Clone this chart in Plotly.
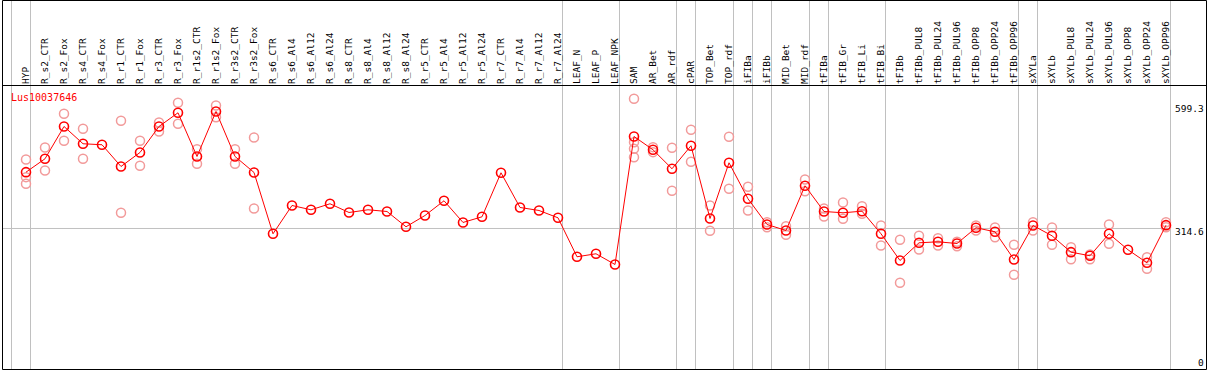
import plotly.graph_objects as go

categories = ["HYP", "R_s2_CTR", "R_s2_Fox", "R_s4_CTR", "R_s4_Fox", "R_r1_CTR", "R_r1_Fox",
              "R_r3_CTR", "R_r3_Fox", "R_r1s2_CTR", "R_r1s2_Fox", "R_r3s2_CTR", "R_r3s2_Fox",
              "R_s6_CTR", "R_s6_Al4", "R_s6_Al12", "R_s6_Al24", "R_s8_CTR", "R_s8_Al4", "R_s8_Al12",
              "R_s8_Al24", "R_r5_CTR", "R_r5_Al4", "R_r5_Al12", "R_r5_Al24", "R_r7_CTR", "R_r7_Al4",
              "R_r7_Al12", "R_r7_Al24", "LEAF_N", "LEAF_P", "LEAF_NPK", "SAM", "AR_Bet", "AR_rdf",
              "cPAR", "TOP_Bet", "TOP_rdf", "iFIBa", "iFIBb", "MID_Bet", "MID_rdf", "tFIBa",
              "tFIB_Gr", "tFIB_Li", "tFIB_Bi", "tFIBb", "tFIBb_PUL8", "tFIBb_PUL24", "tFIBb_PUL96",
              "tFIBb_OPP8", "tFIBb_OPP24", "tFIBb_OPP96", "sXYLa", "sXYLb", "sXYLb_PUL8",
              "sXYLb_PUL24", "sXYLb_PUL96", "sXYLb_OPP8", "sXYLb_OPP24", "sXYLb_OPP96"]

mean_values = [443.9, 474.6, 548.8, 509.1, 506.8, 456.9, 489.1, 548.8, 580.2, 479.9, 583.2, 479.9,
               443.2, 302.4, 367.4, 357.5, 371.3, 351.3, 357.5, 353.6, 318.5, 344.4, 378.2, 328.4,
               341.4, 442.5, 362.8, 355.9, 339.1, 249.6, 256.5, 231.9, 525.8, 495.3, 451.7, 504.5,
               337.5, 465.4, 382.8, 323.8, 310.0, 412.6, 353.6, 350.6, 354.3, 302.4, 241.1, 281.7,
               284.0, 280.1, 316.2, 307.0, 243.4, 321.5, 297.8, 260.2, 251.9, 302.4, 265.7, 235.8,
               322.2]

replicate_values = [
    [473.0, 432.4, 417.2], [500.6, 447.8], [578.0, 516.0], [543.5, 474.6], [],
    [561.9, 350.6], [516.0, 458.6], [558.0, 537.3], [603.2, 555.0], [496.7, 463.1],
    [597.0, 570.1], [496.7, 463.1], [523.5, 360.5], [], [], [], [], [], [], [], [], [], [],
    [], [], [], [], [], [], [], [], [],
    [612.4, 512.7, 497.6, 478.3], [501.3, 489.8], [499.9, 401.1], [541.2, 467.7],
    [367.4, 309.3], [525.1, 405.7], [410.3, 355.9], [329.0, 317.6], [319.9, 300.1],
    [427.1, 400.2], [360.5, 342.1], [374.3, 336.9], [365.8, 348.3], [321.5, 275.5],
    [288.6, 189.9], [297.8, 266.4], [292.3, 275.5], [284.0, 273.9], [321.5, 310.0],
    [316.9, 294.6], [277.1, 208.3], [329.0, 310.0], [316.9, 277.1], [271.6, 244.1],
    [254.9, 244.1], [323.8, 279.4], [], [248.7, 222.0], [329.0, 317.6]]

# group boundaries: separators drawn after these category indices
group_ends = [-1, 0, 28, 31, 34, 35, 37, 38, 39, 41, 42, 45, 52, 53, 60]
ytick_values = [599.3, 314.6, 0]
ytick_labels = ["599.3", "314.6", "0"]
reference_value = 314.6
gene_name = "Lus10037646"

W, H = 1209, 370
TOP = 85
PLOT_H = H - TOP

def xp(px):
    return px / W

def yp(py):
    return (H - py) / PLOT_H

x_idx = list(range(len(categories)))
rep_x, rep_y = [], []
for i, vals in enumerate(replicate_values):
    for v in vals:
        rep_x.append(i)
        rep_y.append(v)

fig = go.Figure()
fig.add_trace(go.Scatter(
    x=rep_x, y=rep_y, mode="markers",
    marker=dict(symbol="circle-open", size=9, color="#f29a9a", line=dict(width=1.5, color="#f29a9a")),
    hoverinfo="skip", showlegend=False))
fig.add_trace(go.Scatter(
    x=x_idx, y=mean_values, mode="lines+markers",
    line=dict(color="#ff0000", width=1),
    marker=dict(symbol="circle-open", size=9, color="#ff0000", line=dict(width=1.6, color="#ff0000")),
    showlegend=False))

shapes = []
# group separators (full height, including label area)
for k in group_ends:
    xs = k + 4.5 / 19
    shapes.append(dict(type="line", xref="x", yref="paper", x0=xs, x1=xs, y0=yp(H), y1=yp(0),
                       line=dict(color="#c0c0c0", width=1), layer="below"))
# horizontal reference line
shapes.append(dict(type="line", xref="paper", yref="y", x0=xp(2), x1=xp(1170.5),
                   y0=reference_value, y1=reference_value,
                   line=dict(color="#c0c0c0", width=1), layer="below"))
# frame
for (x0, y0, x1, y1) in [(2.5, 0.5, 1206.5, 0.5), (2.5, 85.5, 1206.5, 85.5),
                         (2.5, 369.5, 1206.5, 369.5), (2.5, 0.5, 2.5, 369.5),
                         (1206.5, 0.5, 1206.5, 369.5)]:
    shapes.append(dict(type="line", xref="paper", yref="paper", x0=xp(x0), x1=xp(x1),
                       y0=yp(y0), y1=yp(y1), line=dict(color="#000000", width=1)))

annotations = [dict(text=gene_name, xref="paper", yref="paper", x=xp(9), y=yp(97),
                    xanchor="left", yanchor="middle", showarrow=False,
                    font=dict(family="DejaVu Sans Mono", size=10, color="#ff0000"))]
label_py = {599.3: 108, 314.6: 231.5, 0: 362.5}
for v, t in zip(ytick_values, ytick_labels):
    annotations.append(dict(text=t, xref="paper", yref="paper", x=xp(1206), y=yp(label_py[v]),
                            xanchor="right", yanchor="middle", showarrow=False,
                            font=dict(family="DejaVu Sans Mono", size=9.5, color="#000000")))

r0 = -26 / 19
r1 = r0 + W / 19
fig.update_layout(
    width=W, height=H, template="none",
    margin=dict(l=0, r=0, t=TOP, b=0, pad=0),
    paper_bgcolor="white", plot_bgcolor="white",
    xaxis=dict(range=[r0, r1], side="top", tickmode="array", tickvals=x_idx, ticktext=categories,
               tickangle=-90, tickfont=dict(family="DejaVu Sans Mono", size=9.5, color="#000000"),
               showgrid=False, zeroline=False, showline=False, ticks="", automargin=False),
    yaxis=dict(range=[-10.33, 644.0], showgrid=False, zeroline=False, showline=False,
               showticklabels=False, ticks="", automargin=False),
    shapes=shapes, annotations=annotations, showlegend=False)

fig.write_html("out.html", config={"displayModeBar": False},
               post_script="document.body.style.margin='0';")
